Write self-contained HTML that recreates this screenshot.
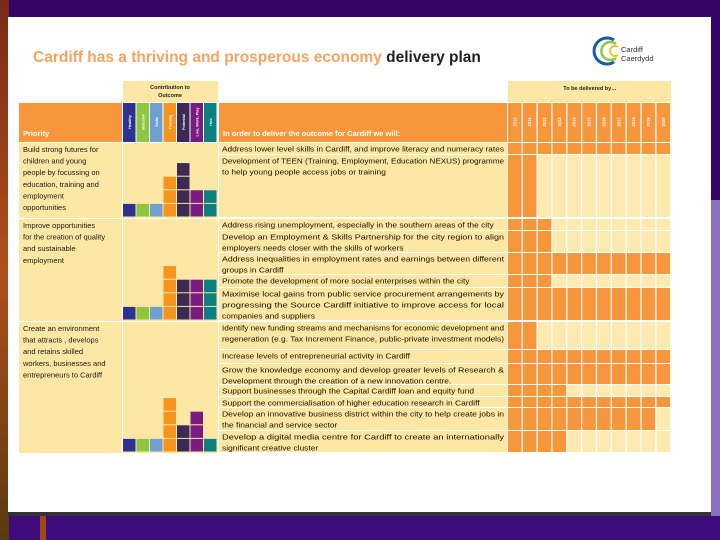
<!DOCTYPE html>
<html><head><meta charset="utf-8"><style>
html,body{margin:0;padding:0;width:720px;height:540px;overflow:hidden;background:#340468;}
svg{display:block;font-family:"Liberation Sans",sans-serif;}
</style></head><body>
<svg id="s" width="720" height="540" viewBox="0 0 720 540">
<defs><linearGradient id="lg" x1="0" y1="0" x2="0" y2="1"><stop offset="0" stop-color="#7a2a18"/><stop offset="0.5" stop-color="#b0501c"/><stop offset="1" stop-color="#5a3a10"/></linearGradient></defs>
<rect x="0" y="0" width="720" height="540" fill="#350568"/>
<rect x="0" y="515" width="720" height="25" fill="#3e0a7c"/>
<rect x="0" y="0" width="9" height="540" fill="url(#lg)"/>
<rect x="40" y="515" width="6" height="25" fill="#a04818"/>
<rect x="705" y="200" width="15" height="316" fill="#8a70c0"/>
<rect x="8" y="17" width="703" height="495" fill="#ffffff"/>
<rect x="8" y="512" width="703" height="4" fill="#333333"/>
<text x="33" y="62" font-size="15.5" font-weight="bold" fill="#f4a460">Cardiff has a thriving and prosperous economy <tspan fill="#222">delivery plan</tspan></text>
<g>
<path d="M614 40 A13 13 0 1 0 614 62" stroke="#1a5aa0" stroke-width="3" fill="none"/>
<path d="M616 44 A9 9 0 1 0 616 58" stroke="#8dc63f" stroke-width="2.5" fill="none"/>
<path d="M618 47 A5 5 0 1 0 618 55" stroke="#f5c518" stroke-width="2" fill="none"/>
<text x="621" y="52" font-size="7.5" fill="#333">Cardiff</text>
<text x="621" y="61" font-size="7.5" fill="#333">Caerdydd</text>
</g>
<g id="tbl"></g>
</svg>
<script>
const outcomes=["Healthy","Inclusive","Skills","Training","Potential","Live, Work, Play","Hub"];
const outcomeColors=["#2e3192","#8dc63f","#6fa0d0","#f7941d","#3b2a55","#7b1a80","#0a8080"];
const years=["2010","2011","2012","2013","2014","2015","2016","2017","2018","2019","2020"];
const sectionContrib1=[1,1,1,3,4,2,2];
const sectionContrib2=[1,1,1,4,3,3,3];
const sectionContrib3=[1,1,1,4,2,3,1];
const actionYears=[11,2,3,3,11,3,11,2,11,11,4,11,10,4];
const actionTexts=[
["Address lower level skills in Cardiff, and improve literacy and numeracy rates"],
["Development of TEEN (Training, Employment, Education NEXUS) programme","to help young people access jobs or training"],
["Address rising unemployment, especially in the southern areas of the city"],
["Develop an Employment & Skills Partnership for the city region to align","employers needs closer with the skills of workers"],
["Address inequalities in employment rates and earnings between different","groups in Cardiff"],
["Promote the development of more social enterprises within the city"],
["Maximise local gains from public service procurement arrangements by","progressing the Source Cardiff initiative to improve access for local","companies and suppliers"],
["Identify new funding streams and mechanisms for economic development and","regeneration (e.g. Tax Increment Finance, public-private investment models)"],
["Increase levels of entrepreneurial activity in Cardiff"],
["Grow the knowledge economy and develop greater levels of Research &","Development through the creation of a new innovation centre."],
["Support businesses through the Capital Cardiff loan and equity fund"],
["Support the commercialisation of higher education research in Cardiff"],
["Develop an innovative business district within the city to help create jobs in","the financial and service sector"],
["Develop a digital media centre for Cardiff to create an internationally","significant creative cluster"]];
const priorities=[
["Build strong futures for","children and young","people by focussing on","education, training and","employment","opportunities"],
["Improve opportunities","for the creation of quality","and sustainable","employment"],
["Create an environment","that attracts , develops","and retains skilled","workers, businesses and","entrepreneurs to Cardiff"]];
</script>
<script>
const NS="http://www.w3.org/2000/svg";
const g=document.getElementById('tbl');
function mk(tag,attrs,name,parent){const e=document.createElementNS(NS,tag);for(const k in attrs)e.setAttribute(k,attrs[k]);


(parent||g).appendChild(e);return e;}
const cream="#fde7a4", orange="#f7963a", light="#fdeab0";
const rowBounds=[[143,155],[155,218],[219,231],[231,253],[253,275],[275,288],[288,321],[322,350],[350,364],[364,385],[385,397],[397,408],[408,431],[431,453]];
const secBounds=[[143,218],[219,321],[322,453]];
const secContrib=[sectionContrib1,sectionContrib2,sectionContrib3];
const cx=i=>123+i*13.5, cw=12.5;
const yx=i=>508+i*14.85, yw=13.6;
const unit=13.6;
mk('rect',{x:123,y:81,width:95,height:21,fill:cream},'contribution-header-box');
let t=mk('text',{x:170,y:89,'font-size':5.5,'font-weight':'bold','text-anchor':'middle',fill:'#222'},'contribution-header');t.textContent="Contribution to";
t=mk('text',{x:170,y:97,'font-size':5.5,'font-weight':'bold','text-anchor':'middle',fill:'#222'},'contribution-header-2');t.textContent="Outcome";
mk('rect',{x:508,y:81,width:163,height:21,fill:cream},'years-header-box');
t=mk('text',{x:590,y:90,'font-size':5.5,'font-weight':'bold','text-anchor':'middle',fill:'#222'},'years-header');t.textContent="To be delivered by…";
mk('rect',{x:19,y:103,width:103,height:39,fill:orange},'priority-header-cell');
t=mk('text',{x:23,y:136,'font-size':7.5,'font-weight':'bold',fill:'#fff'},'priority-header');t.textContent="Priority";
mk('rect',{x:219,y:103,width:288,height:39,fill:orange},'action-header-cell');
t=mk('text',{x:223,y:136,'font-size':7.5,'font-weight':'bold',fill:'#fff'},'action-header');t.textContent="In order to deliver the outcome for Cardiff we will:";
outcomes.forEach((o,i)=>{
  mk('rect',{x:cx(i),y:103,width:cw,height:39,fill:outcomeColors[i]},'outcome-header-'+i);
  const tt=mk('text',{x:0,y:0,'font-size':3.8,'font-weight':'bold',fill:'#fff','text-anchor':'middle',transform:`translate(${cx(i)+cw/2+1.5},122) rotate(-90)`},'outcome-label');tt.textContent=o;
});
years.forEach((y,i)=>{
  mk('rect',{x:yx(i),y:103,width:yw,height:39,fill:orange},'year-header-'+y);
  const tt=mk('text',{x:0,y:0,'font-size':4.2,'font-weight':'bold',fill:'#fff','text-anchor':'middle',transform:`translate(${yx(i)+yw/2+1.5},122) rotate(-90)`},'year-label');tt.textContent=y;
});
secBounds.forEach((b,s)=>{
  mk('rect',{x:19,y:b[0],width:103,height:b[1]-b[0],fill:cream},'priority-cell');
  mk('rect',{x:123,y:b[0],width:95,height:b[1]-b[0],fill:cream},'contribution-cell');
  priorities[s].forEach((l,k)=>{const tt=mk('text',{x:23,y:b[0]+9+k*11.6,'font-size':7.5,fill:'#1a1a1a'},'priority-text');tt.textContent=l;});
  secContrib[s].forEach((v,i)=>{
    for(let u=0;u<v;u++){
      const yb=b[1]-1-(u+1)*unit;
      mk('rect',{x:cx(i),y:yb+0.5,width:cw,height:unit-1,fill:outcomeColors[i]},'contribution-bar-'+outcomes[i].toLowerCase().replace(/[^a-z]+/g,'-'));
    }
  });
});
rowBounds.forEach((b,r)=>{
  mk('rect',{x:219,y:b[0],width:288,height:b[1]-b[0]-1,fill:cream},'action-cell');
  const lines=actionTexts[r];
  lines.forEach((l,k)=>{
    const a={x:222,y:b[0]+8.5+k*11,'font-size':7,fill:'#1a1000'};
    const tt=mk('text',a,'action-text');tt.textContent=l;
    let w=tt.getComputedTextLength()*1.2;
    if(lines.length>1&&k<lines.length-1)w=282;
    w=Math.min(282,w);
    tt.setAttribute('textLength',w.toFixed(1));
    tt.setAttribute('lengthAdjust','spacingAndGlyphs');
  });
  years.forEach((y,i)=>{
    const on=i<actionYears[r];
    mk('rect',{x:yx(i),y:b[0],width:yw,height:b[1]-b[0]-1,fill:on?orange:light},on?'year-cell-filled':'year-cell-empty');
  });
});
</script>
</body></html>
